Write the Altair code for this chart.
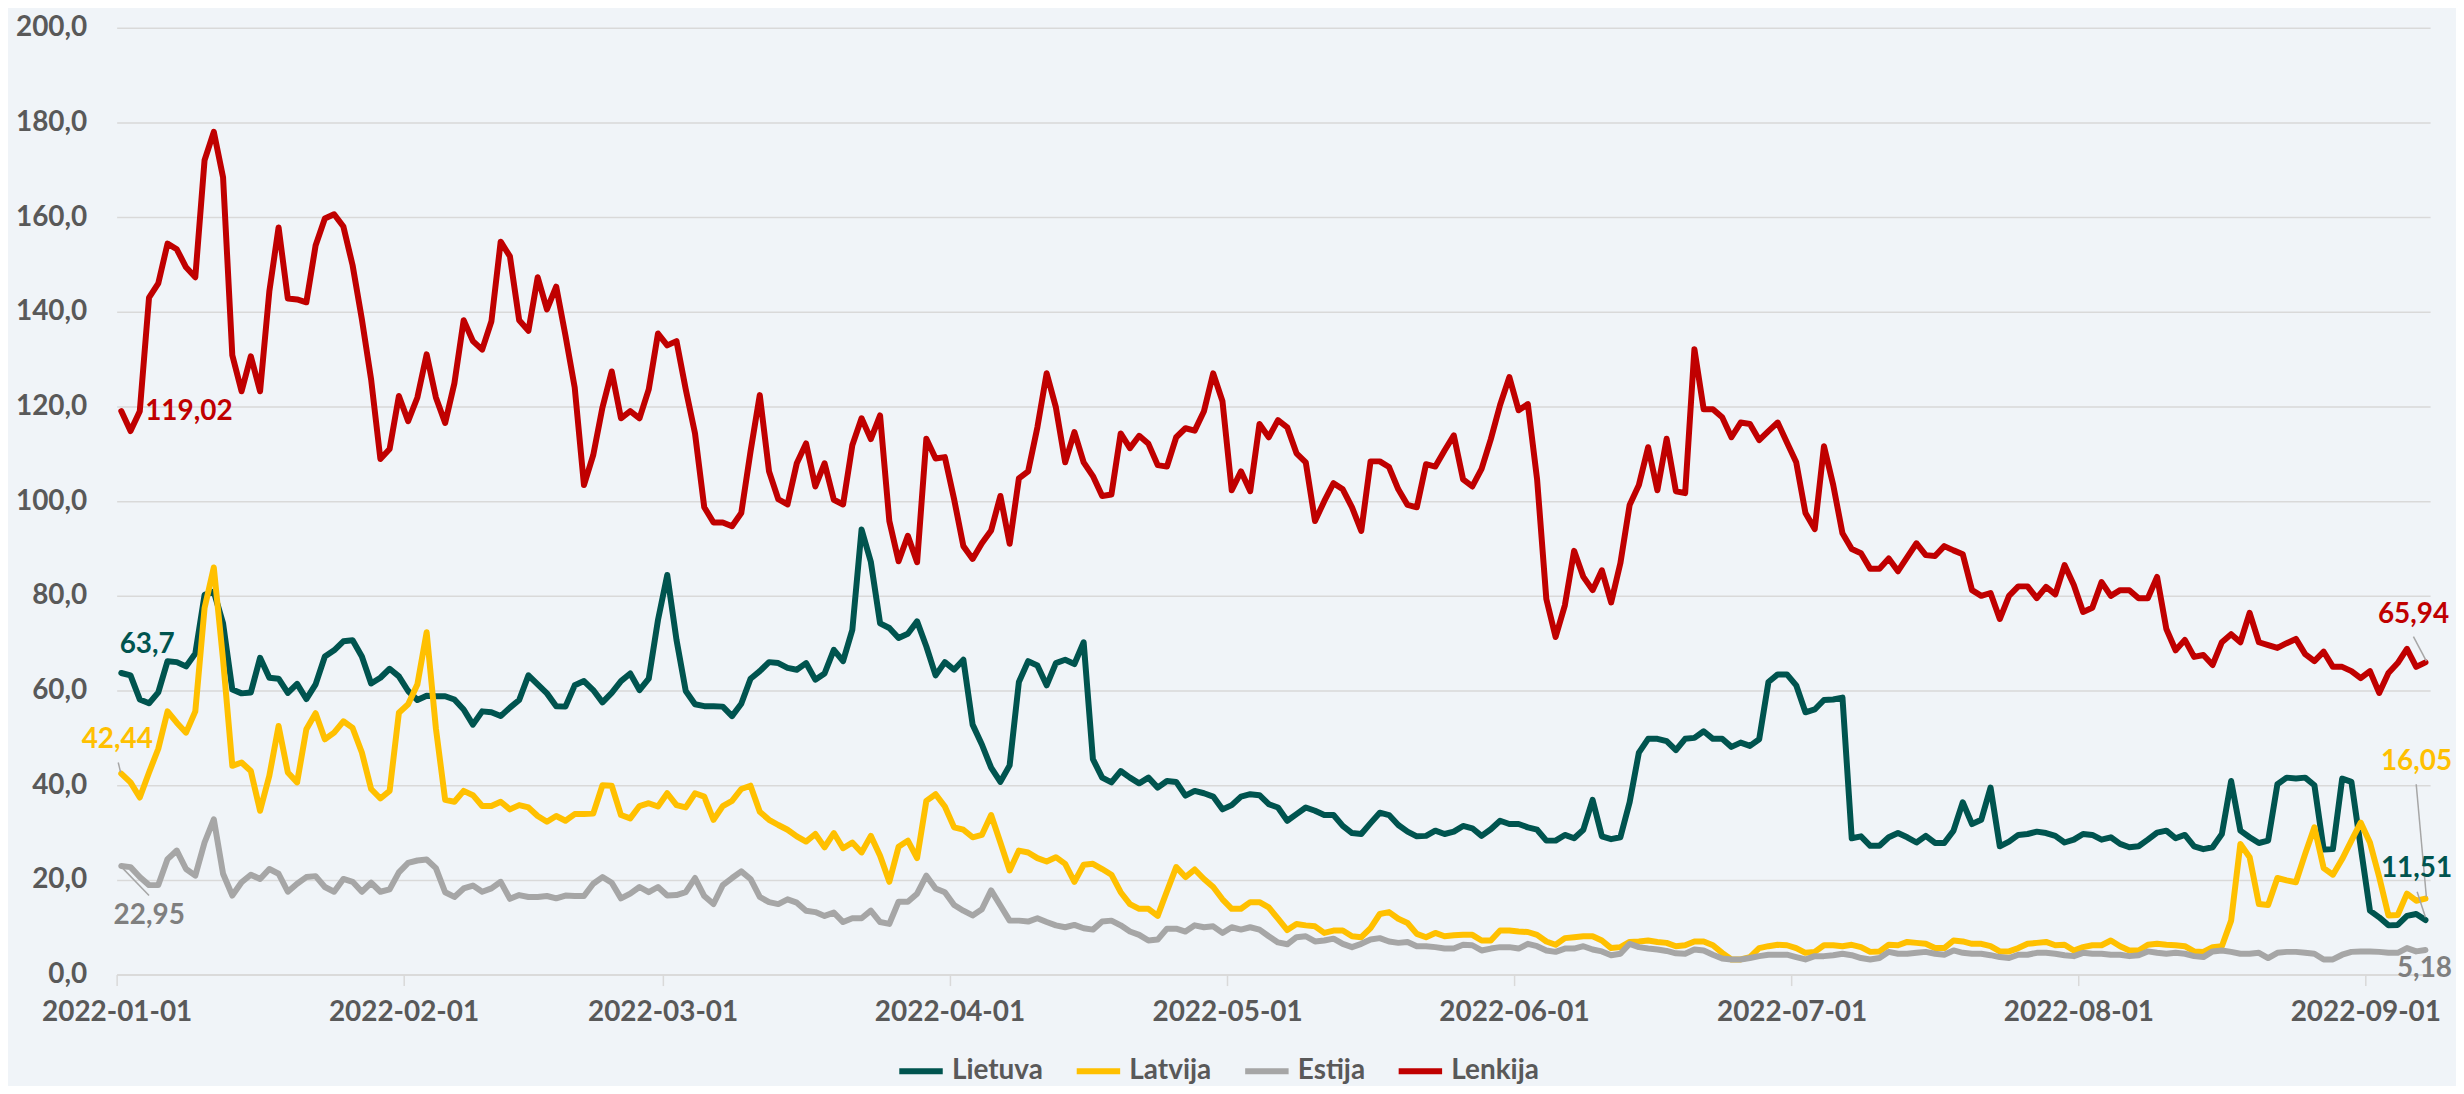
import altair as alt
import pandas as pd

# ---------------- data ----------------
series_names = ["Lietuva", "Latvija", "Estija", "Lenkija"]
series_colors = ["#00544F", "#FFC000", "#A6A6A6", "#C00000"]
label_colors = {"Lietuva": "#00544F", "Latvija": "#FFC000", "Estija": "#7F7F7F", "Lenkija": "#C00000"}

first_day = "2022-01-01"

lietuva = [
    63.7, 63.2, 58.1, 57.3, 59.6, 66.2, 66.0, 65.1, 67.8, 80.2,
    80.9, 74.2, 60.2, 59.4, 59.6, 66.9, 62.7, 62.5, 59.5, 61.4,
    58.2, 61.3, 67.2, 68.5, 70.4, 70.6, 67.2, 61.5, 62.7, 64.6,
    63.0, 59.9, 58.0, 58.9, 58.8, 58.8, 58.1, 56.0, 52.8, 55.6,
    55.4, 54.6, 56.4, 58.0, 63.2, 61.3, 59.4, 56.7, 56.6, 61.1,
    62.0, 60.1, 57.5, 59.5, 62.0, 63.6, 60.1, 62.5, 74.9, 84.4,
    70.7, 59.9, 57.1, 56.7, 56.7, 56.6, 54.6, 57.2, 62.5, 64.1,
    66.0, 65.8, 64.8, 64.4, 65.8, 62.3, 63.6, 68.6, 66.2, 72.8,
    94.0, 87.2, 74.2, 73.2, 71.1, 72.0, 74.6, 69.3, 63.2, 66.0,
    64.4, 66.5, 52.8, 48.6, 43.7, 40.7, 44.2, 61.8, 66.2, 65.3,
    61.1, 65.8, 66.5, 65.6, 70.2, 45.5, 41.6, 40.6, 43.0, 41.6,
    40.4, 41.6, 39.5, 40.9, 40.7, 37.8, 38.8, 38.3, 37.6, 34.9,
    35.8, 37.6, 38.1, 37.9, 36.0, 35.3, 32.5, 33.9, 35.3, 34.6,
    33.7, 33.7, 31.4, 29.9, 29.7, 32.0, 34.2, 33.7, 31.6, 30.2,
    29.2, 29.3, 30.4, 29.7, 30.2, 31.4, 30.9, 29.3, 30.7, 32.5,
    31.8, 31.8, 31.1, 30.6, 28.3, 28.3, 29.5, 28.8, 30.6, 36.9,
    29.2, 28.6, 29.0, 36.4, 46.9, 49.8, 49.8, 49.3, 47.4, 49.8,
    50.0, 51.4, 49.8, 49.8, 48.1, 49.0, 48.3, 49.7, 61.8, 63.4,
    63.4, 61.1, 55.4, 56.0, 58.0, 58.1, 58.5, 28.8, 29.2, 27.2,
    27.2, 29.0, 29.9, 29.0, 27.9, 29.3, 27.8, 27.8, 30.4, 36.4,
    31.8, 32.7, 39.5, 27.1, 28.1, 29.5, 29.7, 30.2, 29.9, 29.3,
    27.9, 28.5, 29.7, 29.5, 28.5, 29.0, 27.6, 26.9, 27.1, 28.5,
    30.0, 30.4, 28.8, 29.5, 27.1, 26.5, 26.9, 29.7, 40.9, 30.4,
    29.0, 27.8, 28.3, 40.2, 41.6, 41.4, 41.6, 40.0, 26.4, 26.5,
    41.4, 40.7, 27.0, 13.5, 12.1, 10.4, 10.5, 12.4, 12.8, 11.51,
]

latvija = [
    42.44, 40.6, 37.4, 42.7, 47.7, 55.6, 53.2, 51.1, 55.6, 77.4,
    86.0, 66.5, 44.1, 44.8, 43.0, 34.6, 42.0, 52.5, 42.7, 40.6,
    51.8, 55.2, 49.7, 51.1, 53.5, 52.1, 46.9, 39.2, 37.2, 38.8,
    55.3, 57.1, 61.3, 72.3, 52.0, 36.9, 36.5, 38.8, 37.9, 35.6,
    35.6, 36.5, 34.9, 35.8, 35.3, 33.5, 32.3, 33.5, 32.5, 33.9,
    33.9, 34.0, 40.0, 39.9, 33.7, 33.0, 35.6, 36.2, 35.5, 38.3,
    35.8, 35.3, 38.3, 37.6, 32.7, 35.6, 36.7, 39.2, 39.9, 34.4,
    32.7, 31.6, 30.6, 29.2, 28.1, 29.7, 26.9, 29.9, 26.7, 27.9,
    25.8, 29.3, 25.1, 19.6, 27.0, 28.3, 24.6, 36.7, 38.1, 35.5,
    31.1, 30.6, 29.0, 29.5, 33.7, 27.9, 22.0, 26.2, 25.8, 24.6,
    23.9, 24.8, 23.4, 19.6, 23.2, 23.4, 22.3, 21.1, 17.4, 14.9,
    13.9, 13.9, 12.4, 17.6, 22.7, 20.6, 22.2, 20.2, 18.5, 15.9,
    13.9, 13.9, 15.3, 15.3, 14.2, 11.8, 9.4, 10.7, 10.4, 10.2,
    8.8, 9.3, 9.3, 8.1, 7.9, 9.8, 12.8, 13.2, 11.8, 10.9,
    8.6, 7.9, 8.8, 8.1, 8.3, 8.4, 8.4, 7.2, 7.2, 9.3,
    9.3, 9.1, 9.0, 8.4, 7.0, 6.3, 7.7, 7.9, 8.1, 8.1,
    7.2, 5.6, 5.8, 6.9, 7.0, 7.2, 6.9, 6.7, 6.0, 6.2,
    7.0, 7.0, 6.2, 4.6, 3.2, 3.2, 3.7, 5.6, 6.0, 6.3,
    6.2, 5.6, 4.6, 4.8, 6.2, 6.2, 6.0, 6.3, 5.8, 4.8,
    4.9, 6.3, 6.2, 6.9, 6.7, 6.5, 5.6, 5.6, 7.2, 7.0,
    6.5, 6.5, 6.0, 4.9, 4.9, 5.6, 6.5, 6.7, 6.9, 6.2,
    6.3, 5.1, 5.8, 6.2, 6.2, 7.2, 6.0, 5.1, 5.1, 6.3,
    6.5, 6.3, 6.2, 6.0, 4.9, 4.8, 5.8, 6.0, 11.4, 27.6,
    24.8, 14.9, 14.7, 20.4, 19.9, 19.5, 25.5, 31.1, 22.5, 21.1,
    24.4, 28.3, 32.1, 27.9, 20.6, 12.5, 12.6, 17.1, 15.6, 16.05,
]

estija = [
    22.95, 22.7, 20.6, 18.9, 18.9, 24.4, 26.2, 22.3, 20.9, 27.9,
    32.8, 21.3, 16.7, 19.5, 21.1, 20.2, 22.3, 21.3, 17.5, 19.2,
    20.6, 20.8, 18.5, 17.5, 20.2, 19.6, 17.5, 19.4, 17.5, 18.0,
    21.6, 23.6, 24.1, 24.3, 22.5, 17.4, 16.4, 18.2, 18.8, 17.5,
    18.2, 19.6, 16.0, 16.8, 16.4, 16.4, 16.6, 16.1, 16.7, 16.6,
    16.6, 19.2, 20.6, 19.4, 16.1, 17.1, 18.5, 17.4, 18.5, 16.7,
    16.8, 17.4, 20.4, 16.6, 14.9, 18.9, 20.4, 21.8, 20.2, 16.4,
    15.3, 14.9, 15.9, 15.2, 13.5, 13.2, 12.4, 13.1, 11.1, 11.9,
    11.9, 13.5, 11.1, 10.7, 15.4, 15.4, 17.1, 20.9, 18.2, 17.4,
    14.7, 13.5, 12.5, 13.8, 17.8, 14.6, 11.4, 11.4, 11.2, 11.9,
    11.1, 10.4, 10.0, 10.5, 9.8, 9.5, 11.2, 11.4, 10.4, 9.1,
    8.4, 7.2, 7.4, 9.7, 9.7, 9.1, 10.4, 10.0, 10.2, 8.8,
    10.0, 9.5, 10.0, 9.5, 8.1, 6.8, 6.4, 7.9, 8.1, 7.0,
    7.2, 7.6, 6.5, 5.8, 6.5, 7.4, 7.7, 7.0, 6.7, 6.9,
    6.0, 6.0, 5.8, 5.5, 5.5, 6.3, 6.2, 5.1, 5.5, 5.8,
    5.8, 5.5, 6.5, 6.0, 5.1, 4.8, 5.5, 5.5, 6.0, 5.3,
    4.9, 4.1, 4.4, 6.5, 5.8, 5.5, 5.3, 5.0, 4.5, 4.4,
    5.3, 5.1, 4.2, 3.4, 3.2, 3.2, 3.5, 3.9, 4.2, 4.2,
    4.2, 3.7, 3.2, 3.9, 3.9, 4.1, 4.4, 4.1, 3.5, 3.2,
    3.5, 4.8, 4.4, 4.4, 4.6, 4.8, 4.4, 4.2, 5.1, 4.6,
    4.4, 4.4, 4.1, 3.7, 3.5, 4.2, 4.2, 4.6, 4.6, 4.4,
    4.1, 3.9, 4.6, 4.4, 4.4, 4.2, 4.2, 3.9, 4.1, 4.9,
    4.6, 4.4, 4.6, 4.4, 3.9, 3.7, 4.9, 5.1, 4.8, 4.4,
    4.4, 4.6, 3.5, 4.6, 4.8, 4.8, 4.6, 4.4, 3.2, 3.2,
    4.2, 4.8, 4.9, 4.9, 4.8, 4.6, 4.6, 5.6, 4.9, 5.18,
]

lenkija = [
    119.02, 114.8, 119.0, 143.0, 146.0, 154.4, 153.2, 149.4, 147.3, 172.0,
    178.0, 168.4, 130.8, 123.2, 130.6, 123.2, 144.3, 157.8, 142.8, 142.6,
    142.0, 154.0, 159.7, 160.6, 158.0, 149.8, 138.4, 125.7, 108.9, 111.0,
    122.2, 116.9, 121.9, 131.0, 121.9, 116.5, 124.9, 138.2, 133.8, 132.0,
    138.0, 154.8, 151.7, 138.2, 136.0, 147.3, 140.5, 145.3, 135.0, 124.0,
    103.4, 109.7, 119.8, 127.4, 117.5, 119.0, 117.5, 123.6, 135.4, 132.9,
    133.8, 123.6, 114.3, 98.7, 95.5, 95.5, 94.7, 97.5, 110.5, 122.4,
    106.3, 100.4, 99.3, 108.0, 112.2, 103.1, 108.0, 100.3, 99.3, 111.8,
    117.5, 113.1, 118.1, 95.8, 87.3, 92.7, 87.1, 113.2, 109.0, 109.3,
    100.4, 90.5, 87.8, 91.1, 93.8, 101.1, 91.0, 104.8, 106.3, 115.6,
    127.0, 119.8, 108.2, 114.6, 108.2, 105.3, 101.1, 101.4, 114.3, 111.2,
    113.8, 112.1, 107.6, 107.3, 113.5, 115.4, 114.9, 119.0, 127.0, 121.1,
    102.3, 106.3, 102.1, 116.3, 113.5, 117.1, 115.6, 110.1, 108.2, 95.8,
    100.0, 103.8, 102.5, 98.7, 93.7, 108.4, 108.4, 107.2, 102.5, 99.2,
    98.7, 107.8, 107.3, 110.7, 113.9, 104.6, 103.1, 106.8, 113.1, 120.3,
    126.2, 119.2, 120.5, 104.6, 79.3, 71.3, 78.0, 89.5, 84.0, 81.2,
    85.4, 78.6, 86.9, 99.2, 103.4, 111.4, 102.3, 113.2, 102.1, 101.7,
    132.1, 119.4, 119.4, 117.7, 113.5, 116.6, 116.3, 112.9, 114.8, 116.6,
    112.4, 108.2, 97.5, 94.1, 111.6, 103.4, 93.2, 89.9, 89.0, 85.7,
    85.7, 87.9, 85.2, 88.2, 91.1, 88.6, 88.4, 90.5, 89.6, 88.8,
    81.2, 80.0, 80.6, 75.1, 80.0, 82.0, 82.0, 79.5, 81.9, 80.3,
    86.5, 82.3, 76.6, 77.5, 82.9, 80.0, 81.2, 81.2, 79.5, 79.5,
    84.0, 73.0, 68.5, 70.7, 67.1, 67.5, 65.4, 70.2, 71.9, 70.2,
    76.4, 70.2, 69.6, 69.0, 70.0, 70.9, 67.7, 66.2, 68.2, 65.0,
    65.0, 64.1, 62.6, 64.1, 59.5, 63.7, 65.8, 68.8, 65.0, 65.94,
]

y_ticks = [0, 20, 40, 60, 80, 100, 120, 140, 160, 180, 200]
x_tick_months = [1, 2, 3, 4, 5, 6, 7, 8, 9]

# end-point value labels: (series, text, point index)
value_labels = [
    ("Lenkija", "119,02", 0),
    ("Lietuva", "63,7", 0),
    ("Latvija", "42,44", 0),
    ("Estija", "22,95", 0),
    ("Lenkija", "65,94", -1),
    ("Latvija", "16,05", -1),
    ("Lietuva", "11,51", -1),
    ("Estija", "5,18", -1),
]

# ---------------- build tables ----------------
all_values = {"Lietuva": lietuva, "Latvija": latvija, "Estija": estija, "Lenkija": lenkija}
n_days = len(lenkija)
day0 = pd.Timestamp(first_day)
dates = [day0 + pd.Timedelta(hours=12) + pd.Timedelta(days=i) for i in range(n_days)]
fmt = "%Y-%m-%dT%H:%M:%S"

rows = []
for name in series_names:
    for d, v in zip(dates, all_values[name]):
        rows.append({"date": d.strftime(fmt), "value": v, "series": name})
df = pd.DataFrame(rows)

lab_rows = []
for s, t, idx in value_labels:
    lab_rows.append({"series": s, "text": t, "date": dates[idx].strftime(fmt), "value": all_values[s][idx]})
lab_df = pd.DataFrame(lab_rows)

# ---------------- styling / placement (pixels) ----------------
FONT = "Lato"
FS = 28
AXIS_COLOR = "#595959"
GRID = "#D9D9D9"
LINE_W = 6

# text offsets relative to the labelled point: text -> (dx, dy, align)
label_offsets = {
    "119,02": (24, 1, "left"),
    "63,7": (26, -28, "center"),
    "42,44": (-4, -34, "center"),
    "22,95": (28, 50, "center"),
    "65,94": (-12, -48, "center"),
    "16,05": (-9, -137, "center"),
    "11,51": (-9, -51, "center"),
    "5,18": (-1, 19, "center"),
}

# leader lines: (day offset, value) pairs in chart units
leaders = [
    (0.17, 44.8, 0.43, 42.7),
    (0.54, 22.7, 3.5, 16.7),
    (248.2, 71.4, 249.6, 66.2),
    (248.5, 40.2, 249.6, 16.4),
    (248.6, 17.5, 249.5, 12.1),
]
lead_df = pd.DataFrame([
    {"date": (day0 + pd.Timedelta(days=a)).strftime(fmt), "value": b,
     "date2": (day0 + pd.Timedelta(days=c)).strftime(fmt), "value2": d}
    for a, b, c, d in leaders
])

x_scale = alt.Scale(domain=[alt.DateTime(year=2022, month=1, date=1),
                            alt.DateTime(year=2022, month=9, date=8)])
y_scale = alt.Scale(domain=[0, 200], nice=False, zero=True)

x_axis = alt.Axis(
    title=None, values=[alt.DateTime(year=2022, month=m, date=1) for m in x_tick_months],
    format="%Y-%m-%d", grid=False, domain=True, domainColor=GRID, domainWidth=1.5,
    ticks=True, tickColor=GRID, tickWidth=1.5, tickSize=11, labelPadding=13,
    labelOverlap=False, labelBound=False, labelFlush=False,
    labelFont=FONT, labelFontSize=FS, labelFontWeight="bold", labelColor=AXIS_COLOR,
)
y_axis = alt.Axis(
    title=None, values=y_ticks, labelExpr="replace(format(datum.value, '.1f'), '.', ',')",
    grid=True, gridColor=GRID, gridWidth=1.5, domain=False, ticks=False, labelPadding=30,
    labelFont=FONT, labelFontSize=FS, labelFontWeight="bold", labelColor=AXIS_COLOR,
)

X = alt.X("date:T", scale=x_scale, axis=x_axis)
Y = alt.Y("value:Q", scale=y_scale, axis=y_axis)

color = alt.Color(
    "series:N",
    scale=alt.Scale(domain=series_names, range=series_colors),
    legend=alt.Legend(
        title=None, orient="none", legendX=782, legendY=1022, direction="horizontal",
        symbolType="stroke", symbolStrokeWidth=LINE_W, symbolSize=1900,
        labelFont=FONT, labelFontSize=FS, labelFontWeight="bold", labelColor=AXIS_COLOR,
        columnPadding=21, labelOffset=6, padding=0,
    ),
)

layers = []
for name in series_names:
    layers.append(
        alt.Chart(df).mark_line(strokeWidth=LINE_W, strokeJoin="round", strokeCap="round")
        .encode(x=X, y=Y, color=color)
        .transform_filter(alt.datum.series == name)
    )

layers.append(
    alt.Chart(lead_df).mark_rule(color="#A6A6A6", strokeWidth=1.5)
    .encode(x=X, y=Y, x2="date2:T", y2="value2:Q")
)

for s, t, idx in value_labels:
    dx, dy, align = label_offsets[t]
    layers.append(
        alt.Chart(lab_df).mark_text(
            dx=dx, dy=dy, align=align, baseline="middle",
            font=FONT, fontSize=FS, fontWeight="bold", color=label_colors[s],
        ).encode(x=X, y=Y, text="text:N").transform_filter(alt.datum.text == t)
    )

chart = (
    alt.layer(*layers)
    .properties(
        width=2321, height=950,
        padding={"left": 109, "top": 18, "right": 26, "bottom": 110},
        autosize=alt.AutoSizeParams(type="none"),
        background="#F0F4F8",
    )
    .configure_view(stroke=None)
)

chart.save("out.html", embed_options={"renderer": "svg", "actions": False})
